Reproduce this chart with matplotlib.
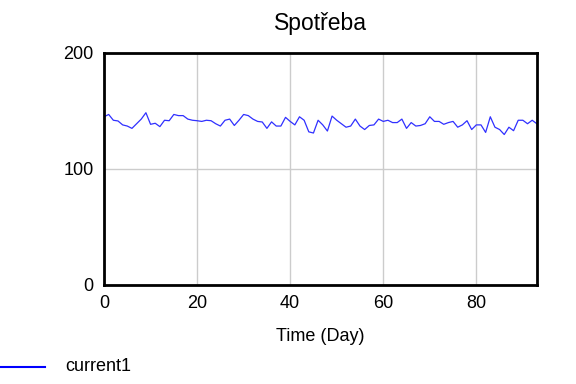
import matplotlib
matplotlib.use("Agg")
import matplotlib.pyplot as plt
from matplotlib.lines import Line2D

plt.rcParams['font.family'] = ['Liberation Sans', 'DejaVu Sans']

days = list(range(94))
current1 = [145, 147, 142, 141.4, 138, 137, 135, 139, 143, 148.5,
            138.5, 139.4, 136.5, 142, 141.6, 147, 146, 146, 143, 142,
            141.6, 141, 142, 141.6, 139, 137, 142, 143, 137.5, 142,
            147, 146, 143, 141, 140.5, 135, 140.6, 137, 137, 144.5,
            141, 138, 145, 142, 132, 131, 142, 138, 132.7, 145.6,
            142, 139, 136, 137, 143, 137, 134, 137.5, 138, 143,
            141, 142, 140, 140, 143, 135, 140, 137, 137.5, 139,
            145, 141, 141, 138.5, 140, 141, 136, 138, 141.6, 134,
            138, 138, 131.5, 145, 136, 134, 129.7, 136, 133, 142,
            142, 139, 142, 139]
series_name = 'current1'

fig = plt.figure(figsize=(5.76, 3.84), dpi=100)
ax = fig.add_axes([0.1806, 0.258, 0.7514, 0.604])
ax.plot(days, current1, color='#3030ff', lw=0.9)
ax.set_xlim(0, 93)
ax.set_ylim(0, 200)
ax.set_xticks([0, 20, 40, 60, 80])
ax.set_yticks([0, 100, 200])
ax.grid(True, color='#cccccc', lw=1)
ax.set_axisbelow(True)
ax.tick_params(length=0, labelsize=13, pad=7.5)
for s in ax.spines.values():
    s.set_linewidth(2)
    s.set_color('black')
ax.set_title('Spotřeba', fontsize=16.5, pad=16.5)
ax.set_xlabel('Time (Day)', fontsize=13, labelpad=11.5)

fig.add_artist(Line2D([0.0, 45 / 576], [0.0443, 0.0443], color='#0000ff', lw=1.5,
                      transform=fig.transFigure))
fig.text(65 / 576, 0.0443, series_name, fontsize=13, va='center', ha='left')

fig.savefig('out.png', dpi=100)
